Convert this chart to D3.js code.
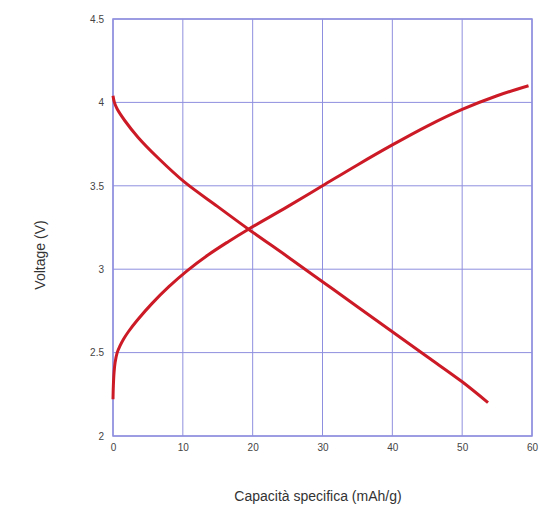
<!DOCTYPE html>
<html><head><meta charset="utf-8">
<script src="https://cdn.jsdelivr.net/npm/d3@7"></script>
<style>body{margin:0;background:#fff;}svg{display:block;font-family:"Liberation Sans",Arial,sans-serif;}</style>
</head><body>
<svg id="c" width="539" height="509"></svg>
<script>
const xTicks = [0,10,20,30,40,50,60];
const yTicks = [2,2.5,3,3.5,4,4.5];
const chargeCap = [0,0.05,0.15,0.3,0.6,1,1.5,2.2,3.5,5.6,8,10.6,13.6,16.5,19.4,25,30,35,40,45,50,55,59.5];
const chargeV   = [2.22,2.3,2.38,2.44,2.5,2.54,2.58,2.625,2.695,2.795,2.895,2.99,3.085,3.165,3.24,3.375,3.5,3.625,3.745,3.858,3.958,4.04,4.10];
const dischCap = [0,0.2,0.6,1.7,3.6,6.5,10.3,15,19.4,25,30,35,40,45,50,53.7];
const dischV   = [4.04,4.0,3.96,3.89,3.79,3.665,3.52,3.375,3.24,3.075,2.925,2.775,2.625,2.475,2.325,2.2];

const svg = d3.select("#c");
const m = {l:113, r:532, t:19, b:436};
const x = d3.scaleLinear().domain([0,60]).range([m.l,m.r]);
const y = d3.scaleLinear().domain([2,4.5]).range([m.b,m.t]);
const gridC = "#8f8fdf";

const g = svg.append("g");
xTicks.forEach(t => g.append("line").attr("x1",x(t)).attr("x2",x(t)).attr("y1",m.t).attr("y2",m.b).attr("stroke",gridC).attr("stroke-width",1));
yTicks.forEach(t => g.append("line").attr("x1",m.l).attr("x2",m.r).attr("y1",y(t)).attr("y2",y(t)).attr("stroke",gridC).attr("stroke-width",1));
g.append("rect").attr("x",m.l).attr("y",m.t).attr("width",m.r-m.l).attr("height",m.b-m.t).attr("fill","none").attr("stroke",gridC).attr("stroke-width",1.5);

const xa = svg.append("g").attr("transform",`translate(0,${m.b})`).call(d3.axisBottom(x).tickValues(xTicks).tickSize(0).tickPadding(8));
const ya = svg.append("g").attr("transform",`translate(${m.l},0)`).call(d3.axisLeft(y).tickValues(yTicks).tickSize(0).tickPadding(9).tickFormat(d=>String(d)));
[xa,ya].forEach(a=>{a.select(".domain").remove();a.selectAll("text").attr("fill","#444").attr("font-size","10px").attr("font-family","Liberation Sans, Arial, sans-serif");});

const line = d3.line().x(d=>x(d[0])).y(d=>y(d[1])).curve(d3.curveCatmullRom.alpha(0.5));
svg.append("path").datum(chargeCap.map((c,i)=>[c,chargeV[i]])).attr("d",line).attr("fill","none").attr("stroke","#cc1a26").attr("stroke-width",3);
svg.append("path").datum(dischCap.map((c,i)=>[c,dischV[i]])).attr("d",line).attr("fill","none").attr("stroke","#cc1a26").attr("stroke-width",3);

svg.append("text").attr("x",318).attr("y",501).attr("text-anchor","middle").attr("font-size","14px").attr("fill","#333").text("Capacità specifica (mAh/g)");
svg.append("text").attr("transform","translate(45,255) rotate(-90)").attr("text-anchor","middle").attr("font-size","14px").attr("fill","#333").text("Voltage (V)");
</script>
</body></html>
